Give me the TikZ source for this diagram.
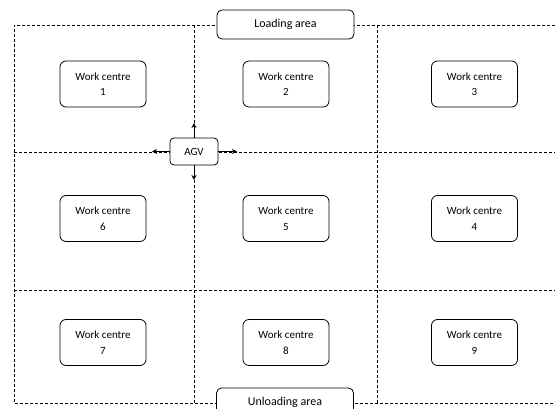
\documentclass[tikz,border=0pt]{standalone}
\usepackage{fontspec}
\setmainfont{Carlito}
\usetikzlibrary{arrows.meta}
\begin{document}
\begin{tikzpicture}[x=1pt,y=-1pt,
  grid/.style={line width=0.8pt,dash pattern=on 3pt off 2pt},
  wc/.style={draw,line width=0.8pt,rounded corners=6pt,fill=white,minimum width=86pt,minimum height=46pt,align=center,font=\fontsize{11}{15.5}\selectfont,inner sep=0pt},
  area/.style={draw,line width=0.8pt,rounded corners=5pt,fill=white,minimum width=137pt,minimum height=29pt,font=\fontsize{12}{14}\selectfont,inner sep=0pt},
  agvbox/.style={draw,line width=0.8pt,rounded corners=4pt,fill=white,minimum width=48pt,minimum height=27pt,font=\fontsize{11}{13}\selectfont,inner sep=0pt},
  arr/.style={line width=0.8pt,-{Stealth[length=5pt,width=5pt]}}]
\useasboundingbox (0,0) rectangle (555,409);
\begin{scope}
\clip (0,0) rectangle (555,409);
% grid
\draw[grid] (555,25) -- (14,25) -- (14,403) -- (555,403);
\draw[grid] (14,152) -- (555,152);
\draw[grid] (14,290) -- (555,290);
\draw[grid] (194,25) -- (194,403);
\draw[grid] (377,25) -- (377,403);
% areas
\node[area] (load) at (285.5,24.5) {Loading area};
\node[area] (unload) at (285,402.5) {Unloading area};
\end{scope}
% work centres
\node[wc] (w1) at (103,84) {Work centre\\1};
\node[wc] (w2) at (286,84) {Work centre\\2};
\node[wc] (w3) at (474.5,84) {Work centre\\3};
\node[wc] (w6) at (103,218.5) {Work centre\\6};
\node[wc] (w5) at (286,218.5) {Work centre\\5};
\node[wc] (w4) at (474.5,218.5) {Work centre\\4};
\node[wc] (w7) at (103,342.5) {Work centre\\7};
\node[wc] (w8) at (286,342.5) {Work centre\\8};
\node[wc] (w9) at (474.5,342.5) {Work centre\\9};
% AGV
\node[agvbox] (agv) at (194,151.5) {AGV};
\coordinate (aw) at (152,151.5);
\coordinate (ae) at (237,151.5);
\coordinate (an) at (194,123);
\coordinate (as) at (194,180);
\draw[arr] (agv.west) -- (aw);
\draw[arr] (agv.east) -- (ae);
\draw[arr] (agv.north) -- (an);
\draw[arr] (agv.south) -- (as);
\end{tikzpicture}
\end{document}
